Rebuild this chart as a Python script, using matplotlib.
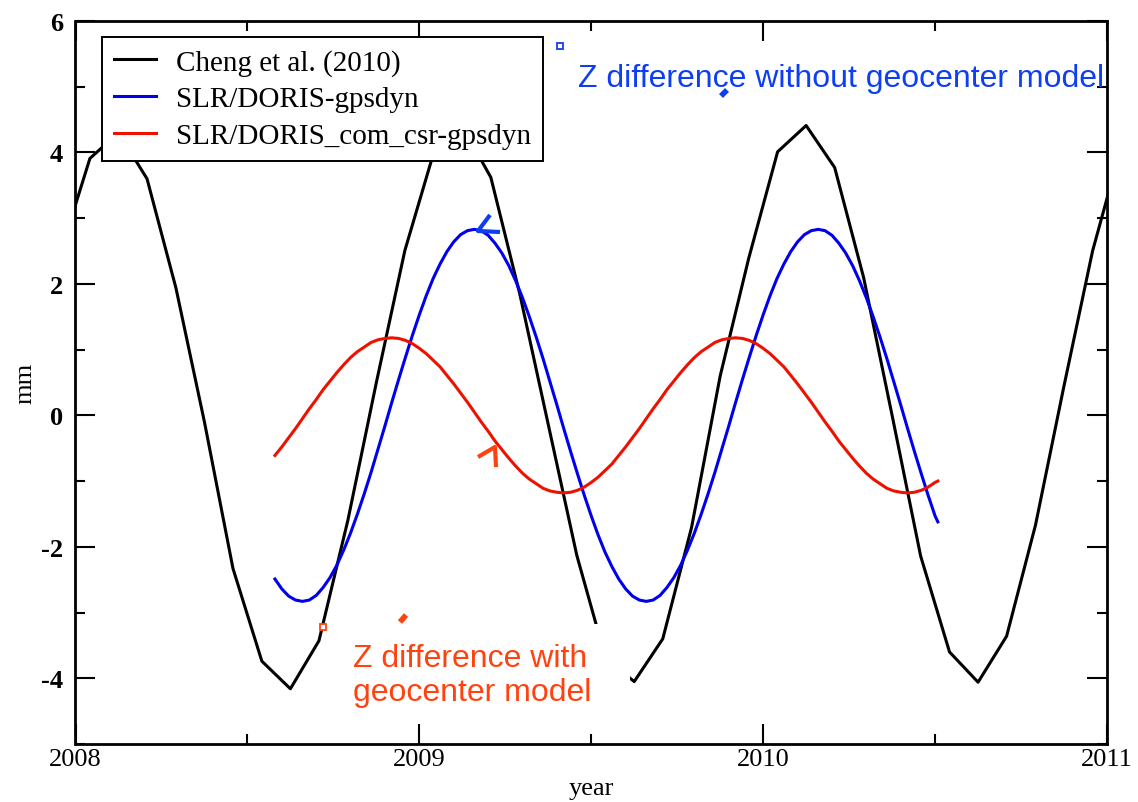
import matplotlib

matplotlib.use("Agg")
import matplotlib.pyplot as plt
from matplotlib.patches import Rectangle
from matplotlib.ticker import MultipleLocator

plt.rcParams["axes.unicode_minus"] = False

# Cheng et al. (2010): monthly (mid-month) Z values, mm
cheng_year = [
    2007.958, 2008.042, 2008.125, 2008.208, 2008.292, 2008.375, 2008.458,
    2008.542, 2008.625, 2008.708, 2008.792, 2008.875, 2008.958, 2009.042,
    2009.125, 2009.208, 2009.292, 2009.375, 2009.458, 2009.542, 2009.625,
    2009.708, 2009.792, 2009.875, 2009.958, 2010.042, 2010.125, 2010.208,
    2010.292, 2010.375, 2010.458, 2010.542, 2010.625, 2010.708, 2010.792,
    2010.875, 2010.958, 2011.042,
]
cheng_mm = [
    2.5, 3.91, 4.3, 3.6, 1.94, -0.1, -2.33,
    -3.74, -4.16, -3.43, -1.6, 0.5, 2.51, 4.0,
    4.4, 3.62, 1.85, -0.14, -2.13, -3.7, -4.05,
    -3.4, -1.7, 0.6, 2.39, 4.01, 4.41, 3.77,
    2.1, 0.0, -2.14, -3.6, -4.06, -3.36, -1.67,
    0.45, 2.5, 4.1,
]

# SLR/DORIS series, every 0.02 yr
slr_year = [
    2008.58, 2008.60, 2008.62, 2008.64, 2008.66, 2008.68, 2008.70, 2008.72,
    2008.74, 2008.76, 2008.78, 2008.80, 2008.82, 2008.84, 2008.86, 2008.88,
    2008.90, 2008.92, 2008.94, 2008.96, 2008.98, 2009.00, 2009.02, 2009.04,
    2009.06, 2009.08, 2009.10, 2009.12, 2009.14, 2009.16, 2009.18, 2009.20,
    2009.22, 2009.24, 2009.26, 2009.28, 2009.30, 2009.32, 2009.34, 2009.36,
    2009.38, 2009.40, 2009.42, 2009.44, 2009.46, 2009.48, 2009.50, 2009.52,
    2009.54, 2009.56, 2009.58, 2009.60, 2009.62, 2009.64, 2009.66, 2009.68,
    2009.70, 2009.72, 2009.74, 2009.76, 2009.78, 2009.80, 2009.82, 2009.84,
    2009.86, 2009.88, 2009.90, 2009.92, 2009.94, 2009.96, 2009.98, 2010.00,
    2010.02, 2010.04, 2010.06, 2010.08, 2010.10, 2010.12, 2010.14, 2010.16,
    2010.18, 2010.20, 2010.22, 2010.24, 2010.26, 2010.28, 2010.30, 2010.32,
    2010.34, 2010.36, 2010.38, 2010.40, 2010.42, 2010.44, 2010.46, 2010.48,
    2010.50, 2010.508,
]
gpsdyn_mm = [
    -2.49, -2.64, -2.75, -2.81, -2.83, -2.81, -2.74, -2.62,
    -2.47, -2.28, -2.05, -1.79, -1.50, -1.19, -0.86, -0.51,
    -0.16, 0.20, 0.55, 0.89, 1.22, 1.53, 1.82, 2.08,
    2.30, 2.49, 2.64, 2.75, 2.81, 2.83, 2.81, 2.74,
    2.62, 2.47, 2.28, 2.05, 1.79, 1.50, 1.19, 0.86,
    0.51, 0.16, -0.20, -0.55, -0.89, -1.22, -1.53, -1.82,
    -2.08, -2.30, -2.49, -2.64, -2.75, -2.81, -2.83, -2.81,
    -2.74, -2.62, -2.47, -2.28, -2.05, -1.79, -1.50, -1.19,
    -0.86, -0.51, -0.16, 0.20, 0.55, 0.89, 1.22, 1.53,
    1.82, 2.08, 2.30, 2.49, 2.64, 2.75, 2.81, 2.83,
    2.81, 2.74, 2.62, 2.47, 2.28, 2.05, 1.79, 1.50,
    1.19, 0.86, 0.51, 0.16, -0.20, -0.55, -0.89, -1.22,
    -1.53, -1.62,
]
com_csr_mm = [
    -0.61, -0.48, -0.34, -0.20, -0.05, 0.10, 0.24, 0.39,
    0.52, 0.65, 0.77, 0.88, 0.97, 1.04, 1.11, 1.15,
    1.17, 1.18, 1.17, 1.14, 1.09, 1.02, 0.94, 0.84,
    0.74, 0.61, 0.48, 0.34, 0.20, 0.05, -0.10, -0.24,
    -0.39, -0.52, -0.65, -0.77, -0.88, -0.97, -1.04, -1.11,
    -1.15, -1.17, -1.18, -1.17, -1.14, -1.09, -1.02, -0.94,
    -0.84, -0.74, -0.61, -0.48, -0.34, -0.20, -0.05, 0.10,
    0.24, 0.39, 0.52, 0.65, 0.77, 0.88, 0.97, 1.04,
    1.11, 1.15, 1.17, 1.18, 1.17, 1.14, 1.09, 1.02,
    0.94, 0.84, 0.74, 0.61, 0.48, 0.34, 0.20, 0.05,
    -0.10, -0.24, -0.39, -0.52, -0.65, -0.77, -0.88, -0.97,
    -1.04, -1.11, -1.15, -1.17, -1.18, -1.17, -1.14, -1.09,
    -1.02, -1.00,
]

labels = ["Cheng et al. (2010)", "SLR/DORIS-gpsdyn", "SLR/DORIS_com_csr-gpsdyn"]
x_ticks = [2008, 2009, 2010, 2011]
y_ticks = [-4, -2, 0, 2, 4, 6]

W, H = 1138, 803
SERIF = "Liberation Serif"
SANS = "Liberation Sans"
BLUE_NOTE = "#0d3ef2"
ORANGE_NOTE = "#ff4210"


def fig_xy(px, py):
    """pixel position in the picture -> figure fraction"""
    return px / W, 1 - py / H


fig = plt.figure(figsize=(W / 100, H / 100), dpi=100)
ax = fig.add_axes([75.5 / W, 1 - 745 / H, (1107 - 75.5) / W, (745 - 22) / H])

ax.plot(cheng_year, cheng_mm, color="black", lw=2.2, label=labels[0])
ax.plot(slr_year, gpsdyn_mm, color="#0000ee", lw=2.2, label=labels[1])
ax.plot(slr_year, com_csr_mm, color="#ee1100", lw=2.2, label=labels[2])

ax.set_xlim(2008, 2011)
ax.set_ylim(-5, 6)
ax.set_xticks(x_ticks)
ax.set_yticks(y_ticks)
ax.xaxis.set_minor_locator(MultipleLocator(0.5))
ax.yaxis.set_minor_locator(MultipleLocator(1))
ax.tick_params(which="both", direction="in", top=True, right=True, width=1.5,
               labelsize=19, colors="black")
ax.tick_params(which="major", length=14.4)
ax.tick_params(which="minor", length=7.2)
ax.tick_params(axis="x", pad=3)
ax.tick_params(axis="y", pad=9)
for lab in ax.get_xticklabels():
    lab.set_family(SERIF)
for lab in ax.get_yticklabels():
    lab.set_family(SERIF)
    lab.set_fontweight("bold")
for sp in ax.spines.values():
    sp.set_linewidth(2.0)

ax.set_xlabel("year", family=SERIF, fontsize=19, labelpad=5)
ax.set_ylabel("mm", family=SERIF, fontsize=19, labelpad=3)

leg = ax.legend(
    loc="upper left",
    bbox_to_anchor=((102 - 75.5) / (1107 - 75.5), (745 - 38) / (745 - 22)),
    borderaxespad=0,
    prop={"family": SERIF, "size": 21},
    fancybox=False,
    frameon=True,
    edgecolor="black",
    framealpha=1,
    handlelength=1.45,
    handletextpad=0.7,
    labelspacing=0.35,
    borderpad=0.4,
)
leg.get_frame().set_linewidth(1.4)

# white box behind the lower note hides part of the black curve
x0, y0 = fig_xy(323, 713)
x1, y1 = fig_xy(630, 625)
ax.add_patch(Rectangle((x0, y0), x1 - x0, y1 - y0, transform=fig.transFigure,
                       facecolor="white", edgecolor="none", zorder=3))

fig.text(*fig_xy(578, 87), "Z difference without geocenter model", family=SANS,
         fontsize=23, color=BLUE_NOTE, ha="left", va="baseline", zorder=6)
fig.text(*fig_xy(353, 701), "Z difference with\ngeocenter model", family=SANS,
         fontsize=23, color=ORANGE_NOTE, ha="left", va="baseline",
         linespacing=1.16, zorder=6)

# leftover callout handles from the annotation layer
marks = [
    (BLUE_NOTE, [(490, 216), (478, 232), (500, 233)], 3.0),
    (ORANGE_NOTE, [(478, 458), (495, 448), (496, 468)], 3.0),
    (BLUE_NOTE, [(721, 97), (727, 91)], 4.0),
    (ORANGE_NOTE, [(400, 623), (406, 616)], 4.0),
]
for color, pts, lw in marks:
    xs, ys = zip(*[fig_xy(px, py) for px, py in pts])
    fig.add_artist(plt.Line2D(xs, ys, color=color, lw=lw, transform=fig.transFigure,
                              solid_capstyle="butt", zorder=7))
for color, (px, py) in [(BLUE_NOTE, (560, 47)), (ORANGE_NOTE, (323, 628))]:
    fx, fy = fig_xy(px, py)
    fig.add_artist(plt.Line2D([fx], [fy], marker="s", ms=5, mfc="white", mec=color,
                              mew=1.3, transform=fig.transFigure, zorder=7))

fig.savefig("out.png", dpi=100, facecolor="white")
